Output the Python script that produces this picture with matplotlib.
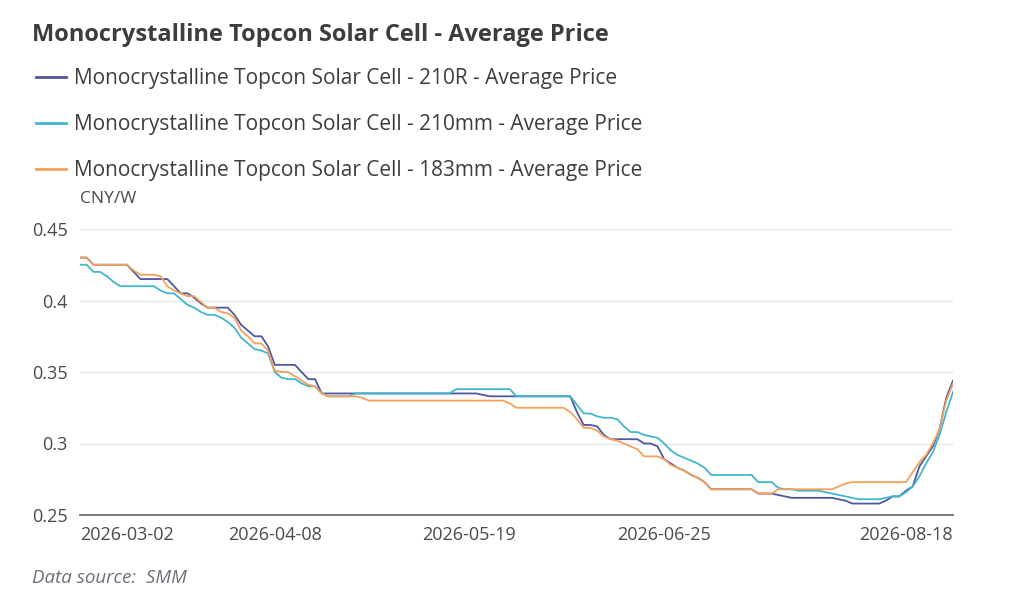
import matplotlib.pyplot as plt
from matplotlib.lines import Line2D

# average prices, CNY/W, one value per price date
price_210r = [
    0.43, 0.43, 0.425, 0.425, 0.425, 0.425, 0.425, 0.425, 0.42, 0.415,
    0.415, 0.415, 0.415, 0.415, 0.41, 0.405, 0.405, 0.402, 0.398, 0.395,
    0.395, 0.395, 0.395, 0.39, 0.383, 0.379, 0.375, 0.375, 0.368, 0.355,
    0.355, 0.355, 0.355, 0.35, 0.345, 0.345, 0.335, 0.335, 0.335, 0.335,
    0.335, 0.335, 0.335, 0.335, 0.335, 0.335, 0.335, 0.335, 0.335, 0.335,
    0.335, 0.335, 0.335, 0.335, 0.335, 0.335, 0.335, 0.335, 0.335, 0.335,
    0.334, 0.333, 0.333, 0.333, 0.333, 0.333, 0.333, 0.333, 0.333, 0.333,
    0.333, 0.333, 0.333, 0.333, 0.322, 0.313, 0.313, 0.312, 0.306, 0.303,
    0.303, 0.303, 0.303, 0.303, 0.3, 0.3, 0.298, 0.289, 0.286, 0.283,
    0.281, 0.278, 0.276, 0.273, 0.268, 0.268, 0.268, 0.268, 0.268, 0.268,
    0.268, 0.265, 0.265, 0.265, 0.264, 0.263, 0.262, 0.262, 0.262, 0.262,
    0.262, 0.262, 0.262, 0.261, 0.26, 0.258, 0.258, 0.258, 0.258, 0.258,
    0.26, 0.263, 0.263, 0.267, 0.27, 0.284, 0.291, 0.298, 0.31, 0.332, 0.344,
]
price_210mm = [
    0.425, 0.425, 0.42, 0.42, 0.417, 0.413, 0.41, 0.41, 0.41, 0.41,
    0.41, 0.41, 0.407, 0.405, 0.405, 0.401, 0.397, 0.395, 0.392, 0.39,
    0.39, 0.388, 0.385, 0.381, 0.374, 0.37, 0.366, 0.365, 0.363, 0.35,
    0.346, 0.345, 0.345, 0.342, 0.34, 0.34, 0.335, 0.333, 0.333, 0.333,
    0.333, 0.335, 0.335, 0.335, 0.335, 0.335, 0.335, 0.335, 0.335, 0.335,
    0.335, 0.335, 0.335, 0.335, 0.335, 0.335, 0.338, 0.338, 0.338, 0.338,
    0.338, 0.338, 0.338, 0.338, 0.338, 0.333, 0.333, 0.333, 0.333, 0.333,
    0.333, 0.333, 0.333, 0.333, 0.327, 0.321, 0.321, 0.319, 0.318, 0.318,
    0.317, 0.312, 0.308, 0.308, 0.306, 0.305, 0.304, 0.3, 0.295, 0.292,
    0.29, 0.288, 0.286, 0.283, 0.278, 0.278, 0.278, 0.278, 0.278, 0.278,
    0.278, 0.273, 0.273, 0.273, 0.269, 0.268, 0.268, 0.267, 0.267, 0.267,
    0.267, 0.266, 0.265, 0.264, 0.263, 0.262, 0.261, 0.261, 0.261, 0.261,
    0.262, 0.263, 0.263, 0.266, 0.27, 0.277, 0.286, 0.294, 0.306, 0.322, 0.336,
]
price_183mm = [
    0.43, 0.43, 0.425, 0.425, 0.425, 0.425, 0.425, 0.425, 0.421, 0.418,
    0.418, 0.418, 0.417, 0.41, 0.407, 0.405, 0.403, 0.403, 0.399, 0.395,
    0.395, 0.392, 0.391, 0.388, 0.379, 0.375, 0.37, 0.37, 0.365, 0.351,
    0.35, 0.35, 0.347, 0.344, 0.341, 0.34, 0.335, 0.333, 0.333, 0.333,
    0.333, 0.333, 0.332, 0.33, 0.33, 0.33, 0.33, 0.33, 0.33, 0.33,
    0.33, 0.33, 0.33, 0.33, 0.33, 0.33, 0.33, 0.33, 0.33, 0.33,
    0.33, 0.33, 0.33, 0.33, 0.328, 0.325, 0.325, 0.325, 0.325, 0.325,
    0.325, 0.325, 0.325, 0.322, 0.317, 0.311, 0.311, 0.309, 0.305, 0.303,
    0.302, 0.3, 0.298, 0.296, 0.291, 0.291, 0.291, 0.289, 0.285, 0.283,
    0.281, 0.278, 0.276, 0.273, 0.268, 0.268, 0.268, 0.268, 0.268, 0.268,
    0.268, 0.265, 0.265, 0.265, 0.268, 0.268, 0.268, 0.268, 0.268, 0.268,
    0.268, 0.268, 0.268, 0.27, 0.272, 0.273, 0.273, 0.273, 0.273, 0.273,
    0.273, 0.273, 0.273, 0.273, 0.28, 0.287, 0.292, 0.3, 0.31, 0.33, 0.342,
]

series_names = [
    "Monocrystalline Topcon Solar Cell - 210R - Average Price",
    "Monocrystalline Topcon Solar Cell - 210mm - Average Price",
    "Monocrystalline Topcon Solar Cell - 183mm - Average Price",
]
series_colors = ["#4e579f", "#40b6cf", "#f4a15a"]

tick_idx = [7, 29, 58, 87, 123]
tick_labels = ["2026-03-02", "2026-04-08", "2026-05-19", "2026-06-25", "2026-08-18"]
y_ticks = [0.25, 0.3, 0.35, 0.4, 0.45]
y_tick_labels = ["0.25", "0.3", "0.35", "0.4", "0.45"]

plt.rcParams['font.family'] = ['Open Sans', 'DejaVu Sans']

fig = plt.figure(figsize=(10.24, 6.08), dpi=100)
ax = fig.add_axes([80 / 1024, 1 - 515 / 608, 873 / 1024, 286 / 608])

for vals, name, col in zip([price_210r, price_210mm, price_183mm], series_names, series_colors):
    ax.plot(range(len(vals)), vals, color=col, lw=1.3, label=name)

ax.set_xlim(0, len(price_210r) - 1)
ax.set_ylim(0.25, 0.45)
ax.set_yticks(y_ticks)
ax.set_yticklabels(y_tick_labels)
ax.set_xticks(tick_idx)
ax.set_xticklabels(tick_labels)
ax.tick_params(axis='both', length=0, labelsize=13, colors='#4a4a4a')
ax.tick_params(axis='y', pad=9)
ax.tick_params(axis='x', pad=8)
ax.grid(axis='y', color='#e0e6f1', lw=1)
ax.set_axisbelow(True)
for s in ['top', 'right', 'left']:
    ax.spines[s].set_visible(False)
ax.spines['bottom'].set_color('#6e7079')
ax.spines['bottom'].set_linewidth(1.3)
ax.spines['bottom'].set_zorder(3)

fig.text(32 / 1024, 1 - 35 / 608, "Monocrystalline Topcon Solar Cell - Average Price",
         fontsize=17, fontweight='bold', color='#3d3d3d', va='center', ha='left')

handles = [Line2D([0], [0], color=c, lw=2) for c in series_colors]
fig.legend(handles, series_names, loc='upper left', bbox_to_anchor=(26 / 1024, 1 - 58 / 608),
           frameon=False, fontsize=15, handlelength=1.4, handletextpad=0.4,
           labelspacing=1.2, borderpad=0, labelcolor='#3d3d3d')

fig.text(80 / 1024, 1 - 199 / 608, "CNY/W", fontsize=12.5, color='#4a4a4a', va='center', ha='left')
fig.text(32 / 1024, 1 - 578 / 608, "Data source:  SMM", fontsize=13.5, style='italic',
         color='#6e7079', va='center', ha='left')

fig.savefig("out.png", dpi=100)
